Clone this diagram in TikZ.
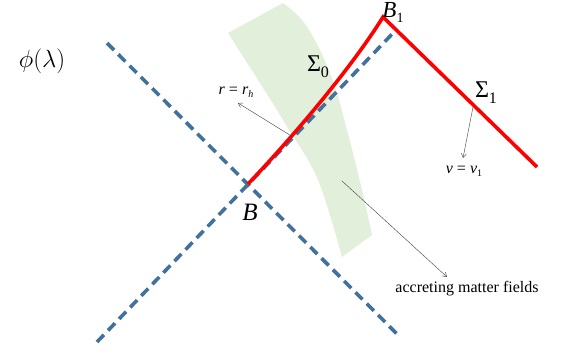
\documentclass[tikz,border=0pt]{standalone}
\usepackage{fontspec}
\setmainfont{Liberation Serif}
\usetikzlibrary{arrows.meta}
\definecolor{hblue}{RGB}{65,113,156}
\definecolor{mgreen}{RGB}{226,239,218}
\begin{document}
\begin{tikzpicture}[x=1pt,y=-1pt,
  horizon/.style={draw=hblue, line width=3.6pt, dash pattern=on 10pt off 6pt},
  surf/.style={draw=red, line width=3.6pt, line join=miter},
  pointer/.style={draw=black!70, line width=0.45pt, -{Straight Barb[length=4pt,width=5pt,line width=0.45pt]}},
  lab/.style={inner sep=0pt, anchor=center}]
\useasboundingbox (0,0) rectangle (561,354);
% accreting matter region
\fill[mgreen] plot[smooth, tension=0.6] coordinates {(283,3) (302,20) (320,50) (335,87) (347,130) (362,190) (372,235)}
  -- (342,257) -- plot[smooth, tension=0.6] coordinates {(342,257) (318,180) (288,128) (258,80) (228,33)} -- cycle;
% horizons
\coordinate (h1a) at (107,43);
\coordinate (h1b) at (400,337);
\coordinate (h2a) at (97,342);
\coordinate (h2b) at (395,31);
\draw[horizon] (h1a) -- (h1b);
\draw[horizon] (h2a) -- (h2b);
% red surfaces
\coordinate (B) at (248,184);
\coordinate (B1) at (383,17);
\coordinate (S1end) at (537,167);
\draw[surf] (B) .. controls (290,140) and (350,70) .. (B1) -- (S1end);
% labels
\node[lab] (phi) at (42,61) {\fontsize{32}{36}\selectfont$\phi(\lambda)$};
\node[lab] (S0) at (318,67) {\fontsize{24}{28}\selectfont Σ\raisebox{-6pt}{\fontsize{16}{18}\selectfont 0}};
\node[lab] (S1) at (486,93) {\fontsize{24}{28}\selectfont Σ\raisebox{-6pt}{\fontsize{16}{18}\selectfont 1}};
\node[lab] (B1lab) at (393,12) {\fontsize{23}{26}\selectfont\textit{B}\raisebox{-5pt}{\fontsize{14}{16}\selectfont 1}};
\node[lab] (Blab) at (250,212) {\fontsize{25}{28}\selectfont\textit{B}};
\node[lab] (rh) at (236,92) {\fontsize{16}{18}\selectfont\textit{r} = \textit{r}\raisebox{-3pt}{\fontsize{10}{11}\selectfont\textit{h}}};
\node[lab] (vv) at (464,171) {\fontsize{16}{18}\selectfont\textit{v} = \textit{v}\raisebox{-3pt}{\fontsize{10}{11}\selectfont 1}};
\node[lab] (acc) at (467,289) {\fontsize{16}{18}\selectfont accreting matter fields};
% pointers
\coordinate (rhs) at (293,137);
\coordinate (rht) at (238,103);
\coordinate (s1s) at (473,107);
\coordinate (s1t) at (463,158);
\coordinate (acs) at (342,181);
\coordinate (act) at (447,277);
\draw[pointer] (rhs) -- (rht);
\draw[pointer] (s1s) -- (s1t);
\draw[pointer] (acs) -- (act);
\end{tikzpicture}
\end{document}
